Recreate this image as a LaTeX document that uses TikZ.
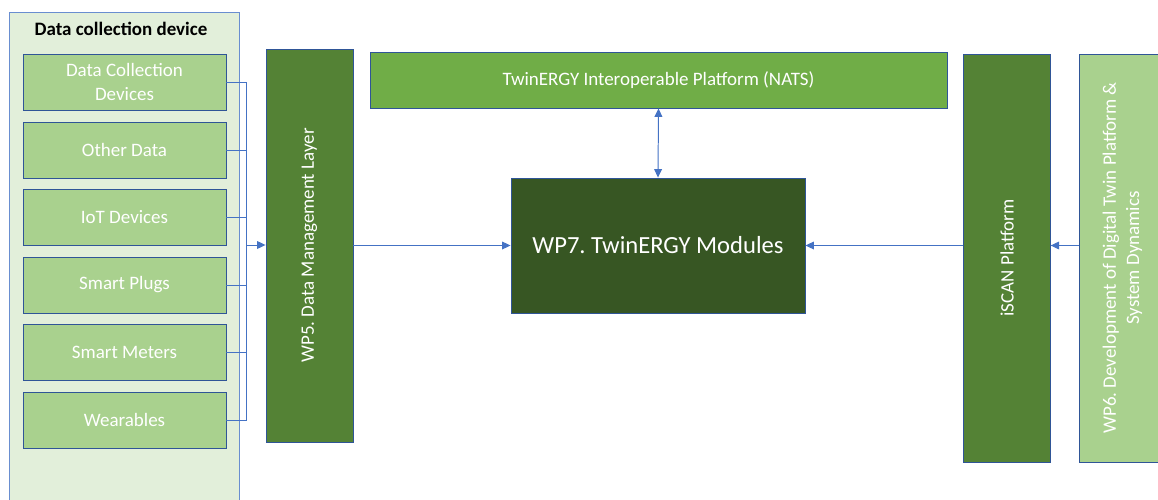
\documentclass[tikz,border=0pt]{standalone}
\usepackage{fontspec}
\setmainfont{Carlito}
\usetikzlibrary{arrows.meta, positioning}
\frenchspacing

\definecolor{edgeblue}{HTML}{2F5597}
\definecolor{linkblue}{HTML}{4472C4}
\definecolor{palegreen}{HTML}{E2EFDA}
\definecolor{softgreen}{HTML}{A9D18E}
\definecolor{midgreen}{HTML}{70AD47}
\definecolor{leafgreen}{HTML}{548235}
\definecolor{deepgreen}{HTML}{375623}

\tikzset{
	box/.style={draw=edgeblue, line width=0.6pt, rectangle, text=white, align=center,
		inner sep=2pt, font=\fontsize{13.5}{16.5}\selectfont},
	srcbox/.style={box, fill=softgreen, minimum width=5.075cm, minimum height=1.4cm},
	tallbox/.style={box, rotate=90, minimum width=10.2cm, minimum height=2.16cm},
	link/.style={draw=linkblue, line width=0.7pt},
	arr/.style={link, -{Triangle[length=6pt, width=5.5pt]}},
}

\begin{document}
\begin{tikzpicture}[x=0.025cm, y=-0.025cm]
	\useasboundingbox (0,0) rectangle (1158,500);

	% Data collection side
	\node[draw=linkblue!80, line width=0.6pt, fill=palegreen, rectangle,
		minimum width=5.75cm, minimum height=12.4cm] (frame) at (124,260) {};
	\node[font=\fontsize{13.5}{16}\selectfont\bfseries] (title) at (121,29) {Data collection device};

	\node[srcbox] (dcd) at (124.5,82) {Data Collection\\Devices};
	\node[srcbox] (other) at (124.5,150) {Other Data};
	\node[srcbox] (iot) at (124.5,217) {IoT Devices};
	\node[srcbox] (plugs) at (124.5,285) {Smart Plugs};
	\node[srcbox] (meters) at (124.5,352.5) {Smart Meters};
	\node[srcbox] (wear) at (124.5,420) {Wearables};
	\coordinate (bus) at (246,245);

	% Layers
	\node[tallbox, fill=leafgreen, minimum width=9.825cm, minimum height=2.175cm] (dml) at (309.5,245.5) {WP5. Data Management Layer};
	\node[box, fill=midgreen, minimum width=14.425cm, minimum height=1.4cm] (nats) at (658.5,80) {TwinERGY Interoperable Platform (NATS)};
	\node[box, fill=deepgreen, minimum width=7.35cm, minimum height=3.375cm,
		font=\fontsize{17.5}{21}\selectfont] (wp7) at (658,245.5) {WP7. TwinERGY Modules};
	\node[tallbox, fill=leafgreen] (iscan) at (1007,258) {iSCAN Platform};
	\node[tallbox, fill=softgreen] (wp6) at (1122.5,258) {WP6. Development of Digital Twin Platform \&\\System Dynamics};

	% Arrows
	\draw[link] (dcd.east) -| (bus);
	\draw[link] (other.east) -| (bus);
	\draw[link] (iot.east) -| (bus);
	\draw[link] (plugs.east) -| (bus);
	\draw[link] (meters.east) -| (bus);
	\draw[link] (wear.east) -| (bus);
	\draw[arr] (bus) -- (dml.north |- bus);
	\draw[arr] (dml.south |- wp7.west) -- (wp7.west);
	\draw[arr, {Triangle[length=6pt, width=5.5pt]}-{Triangle[length=6pt, width=5.5pt]}] (nats.south) -- (wp7.north);
	\draw[arr] (iscan.north |- wp7.east) -- (wp7.east);
	\draw[arr] (wp6.north |- wp7.east) -- (iscan.south |- wp7.east);

\end{tikzpicture}
\end{document}
